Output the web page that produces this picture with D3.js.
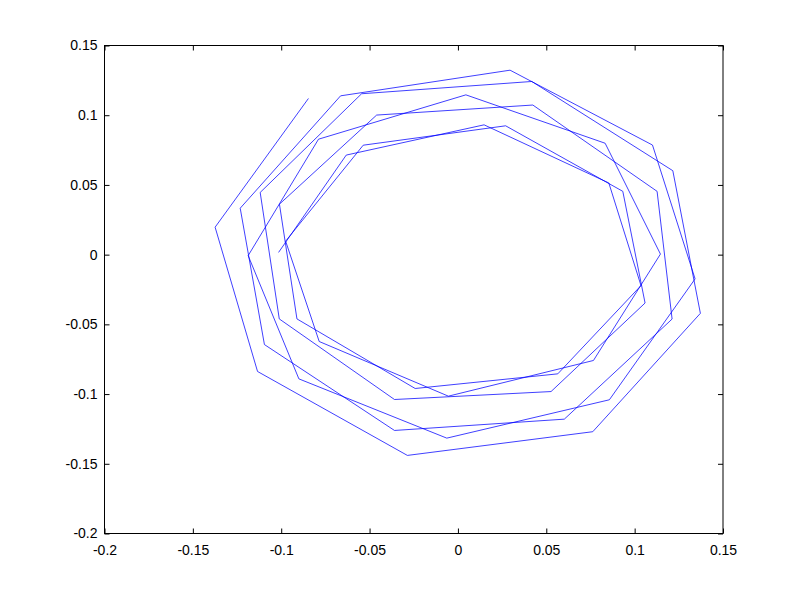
<!DOCTYPE html>
<html>
<head>
<meta charset="utf-8">
<script src="https://cdn.jsdelivr.net/npm/d3@7"></script>
<style>
  html, body { margin: 0; padding: 0; background: #ffffff; }
  svg { display: block; }
  text { font-family: "Liberation Sans", Arial, Helvetica, sans-serif; font-size: 14px; fill: #000; }
</style>
</head>
<body>
<svg id="chart" width="800" height="600"></svg>
<script>
// Trajectory values (in drawing order)
const xValues = [
  -0.1015, -0.0632, 0.0148, 0.0854, 0.1036, 0.0565, -0.0242, -0.0911, -0.1010, -0.0460,
   0.0424,  0.1127, 0.1212, 0.0602, -0.0359, -0.1095, -0.1232, -0.0664, 0.0295, 0.1101,
   0.1342,  0.0857, -0.0063, -0.0900, -0.1187, -0.0789, 0.0045, 0.0833, 0.1146, 0.0767,
  -0.0054, -0.0785, -0.0975, -0.0536, 0.0270, 0.0933, 0.1059, 0.0527, -0.0359, -0.1011,
  -0.1119, -0.0545, 0.0418, 0.1216, 0.1372, 0.0763, -0.0286, -0.1134, -0.1374, -0.0846
];
const yValues = [
   0.0016, 0.0714, 0.0931, 0.0514, -0.0222, -0.0855, -0.0960, -0.0461, 0.0362, 0.1001,
   0.1073, 0.0454, -0.0462, -0.1180, -0.1261, -0.0645, 0.0333, 0.1139, 0.1323, 0.0786,
  -0.0174, -0.1041, -0.1316, -0.0891, -0.0007, 0.0828, 0.1146, 0.0799, 0.0004, -0.0759,
  -0.1015, -0.0623, 0.0097, 0.0785, 0.0924, 0.0454, -0.0347, -0.0982, -0.1039, -0.0461,
   0.0446, 0.1154, 0.1242, 0.0602, -0.0421, -0.1270, -0.1440, -0.0838, 0.0197, 0.1120
];
const xTicks = [-0.2, -0.15, -0.1, -0.05, 0, 0.05, 0.1, 0.15];
const yTicks = [-0.2, -0.15, -0.1, -0.05, 0, 0.05, 0.1, 0.15];
const xTickLabels = ["-0.2", "-0.15", "-0.1", "-0.05", "0", "0.05", "0.1", "0.15"];
const yTickLabels = ["-0.2", "-0.15", "-0.1", "-0.05", "0", "0.05", "0.1", "0.15"];

const svg = d3.select("#chart");
const plotLeft = 104.5, plotRight = 723, plotTop = 45.5, plotBottom = 533.5;

const x = d3.scaleLinear().domain([-0.2, 0.15]).range([plotLeft, plotRight]);
const y = d3.scaleLinear().domain([-0.2, 0.15]).range([plotBottom, plotTop]);

const data = xValues.map((v, i) => [v, yValues[i]]);

// plot line
svg.append("path")
  .datum(data)
  .attr("fill", "none")
  .attr("stroke", "#0000ff")
  .attr("stroke-width", 0.75)
  .attr("d", d3.line().x(d => x(d[0])).y(d => y(d[1])));

const tickLen = 5;
const fmtX = (d, i) => xTickLabels[i];
const fmtY = (d, i) => yTickLabels[i];

const gB = svg.append("g").attr("transform", `translate(0,${plotBottom})`)
  .call(d3.axisBottom(x).tickValues(xTicks).tickFormat(fmtX).tickSizeInner(-tickLen).tickSizeOuter(0).tickPadding(12));
const gT = svg.append("g").attr("transform", `translate(0,${plotTop})`)
  .call(d3.axisTop(x).tickValues(xTicks).tickFormat("").tickSizeInner(-tickLen).tickSizeOuter(0));
const gL = svg.append("g").attr("transform", `translate(${plotLeft},0)`)
  .call(d3.axisLeft(y).tickValues(yTicks).tickFormat(fmtY).tickSizeInner(-tickLen).tickSizeOuter(0).tickPadding(7));
const gR = svg.append("g").attr("transform", `translate(${plotRight},0)`)
  .call(d3.axisRight(y).tickValues(yTicks).tickFormat("").tickSizeInner(-tickLen).tickSizeOuter(0));

[gB, gT, gL, gR].forEach(g => {
  g.select(".domain").remove();
  g.selectAll("line").attr("stroke", "#000").attr("stroke-width", 1);
  g.selectAll("text").attr("font-family", null).attr("font-size", null).style("fill", "#000");
});

svg.append("rect")
  .attr("x", plotLeft).attr("y", plotTop)
  .attr("width", plotRight - plotLeft).attr("height", plotBottom - plotTop)
  .attr("fill", "none").attr("stroke", "#000").attr("stroke-width", 1);
</script>
</body>
</html>
